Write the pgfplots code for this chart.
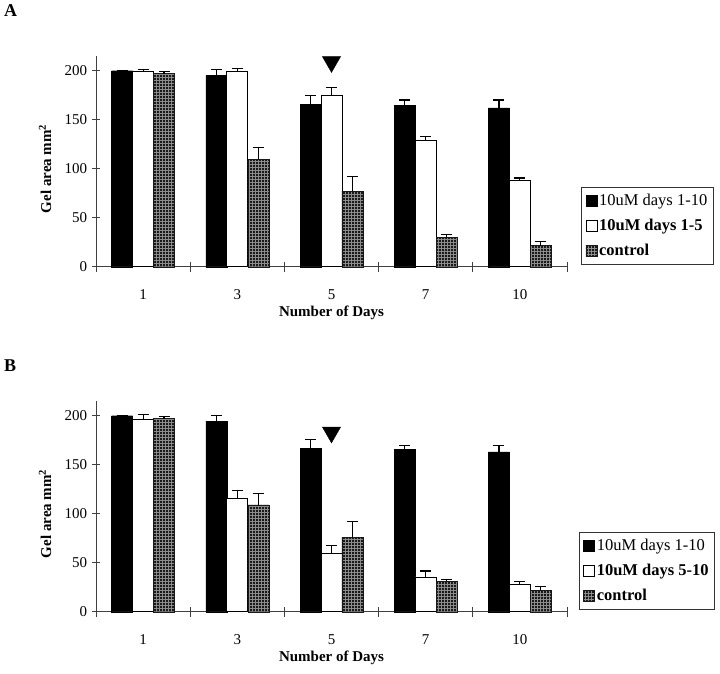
\documentclass[border=0pt]{standalone}
\usepackage{fontspec}
\setmainfont{Liberation Serif}
\usepackage{pgfplots}
\pgfplotsset{compat=1.18}
\usepackage{pgfplotstable}
\usetikzlibrary{patterns}

\pgfplotstableread{
x b be w we c ce
0 200 0   199   2   197   2
1 195 6   199   3   109.5 12
2 166 8.5 175   8   77    15
3 165 5   129   4   30    3
4 162 8   88.5  2   21.5  4
}\dataA

\pgfplotstableread{
x b be w we c ce
0 200   0   196   5   197   2
1 194.5 6   116   8   109   12
2 167   8.5 59.5  8   76    16
3 165.5 4   35.5  6   31    1.5
4 163   6.5 27.5  3   22    3.5
}\dataB

\pgfplotsset{
  sqlegend/.style={legend image code/.code={\draw[##1,line width=0.6pt] (0pt,-5.5pt) rectangle (11pt,5.5pt);}},
  panel/.style={
    scale only axis, width=471pt, height=210.7pt,
    xmin=-0.5, xmax=4.5, ymin=0, ymax=215,
    axis x line*=bottom, axis y line*=left,
    axis line style={black!75, line width=0.7pt},
    xtick={0,1,2,3,4}, xticklabels={1,3,5,7,10},
    minor xtick={-0.5,0.5,1.5,2.5,3.5,4.5},
    major x tick style={draw=none},
    minor x tick style={draw=black!75, line width=0.7pt},
    minor tick length=10pt,
    ytick={0,50,100,150,200},
    y tick style={draw=black!75, line width=0.7pt},
    major tick length=8.5pt,
    tick align=center,
    tick label style={font=\fontsize{15}{18}\selectfont},
    /pgf/number format/assume math mode=true,
    xticklabel style={anchor=center, yshift=-24pt},
    yticklabel style={xshift=-1pt},
    xlabel={\textbf{Number of Days}},
    xlabel style={at={(axis description cs:0.5,0)}, anchor=center, yshift=-46pt, font=\fontsize{15}{18}\selectfont},
    ylabel={\textbf{Gel area mm\textsuperscript{2}}},
    ylabel style={at={(axis description cs:-0.108,0.465)}, anchor=center, font=\fontsize{15}{18}\selectfont},
    clip=false,
    legend cell align=left,
    legend style={anchor=north west, draw=black!80, line width=0.8pt,
      font=\fontsize{16.5}{19}\selectfont, row sep=8pt, inner xsep=4pt, inner ysep=5pt},
    error bars/error bar style={line width=1.2pt, black},
    error bars/error mark options={line width=1.2pt, black, mark size=5.5pt, rotate=90},
  },
  blackbar/.style={ybar, bar width=21pt, bar shift=0pt, fill=black, draw=black, sqlegend},
  whitebar/.style={ybar, bar width=21pt, bar shift=0pt, fill=white, draw=black, line width=0.8pt, sqlegend},
  ctrlbar/.style={ybar, bar width=21pt, bar shift=0pt, fill=black!90, draw=black!90,
     postaction={pattern=grid, pattern color=black!45}, sqlegend},
}

\begin{document}
\begin{tikzpicture}
\path (0pt,0pt) rectangle (720pt,-674pt);
\node[anchor=north west, inner sep=0pt] at (4pt,-4pt) {\fontsize{18}{20}\selectfont\bfseries A};
\node[anchor=north west, inner sep=0pt] at (4pt,-360pt) {\fontsize{18}{20}\selectfont\bfseries B};

\begin{axis}[panel, at={(96pt,-266.7pt)}, anchor=south west,
  legend style={at={(axis description cs:1.03,0.378)}}]
\addplot[blackbar, error bars/.cd, y dir=plus, y explicit] table[x expr=\thisrow{x}-0.2229, y=b, y error=be] {\dataA};
\addplot[whitebar, error bars/.cd, y dir=plus, y explicit] table[x=x, y=w, y error=we] {\dataA};
\addplot[ctrlbar, error bars/.cd, y dir=plus, y explicit] table[x expr=\thisrow{x}+0.2229, y=c, y error=ce] {\dataA};
\addplot[forget plot, only marks, mark=triangle*, mark size=10.5pt, mark options={rotate=180, fill=black, draw=black}] coordinates {(2,209)};
\legend{10uM days 1-10, \textbf{10uM days 1-5}, \textbf{control}}
\end{axis}

\begin{axis}[panel, at={(96pt,-611.7pt)}, anchor=south west,
  legend style={at={(axis description cs:1.025,0.378)}}]
\addplot[blackbar, error bars/.cd, y dir=plus, y explicit] table[x expr=\thisrow{x}-0.2229, y=b, y error=be] {\dataB};
\addplot[whitebar, error bars/.cd, y dir=plus, y explicit] table[x=x, y=w, y error=we] {\dataB};
\addplot[ctrlbar, error bars/.cd, y dir=plus, y explicit] table[x expr=\thisrow{x}+0.2229, y=c, y error=ce] {\dataB};
\addplot[forget plot, only marks, mark=triangle*, mark size=10.5pt, mark options={rotate=180, fill=black, draw=black}] coordinates {(2,183)};
\legend{10uM days 1-10, \textbf{10uM days 5-10}, \textbf{control}}
\end{axis}
\end{tikzpicture}
\end{document}
